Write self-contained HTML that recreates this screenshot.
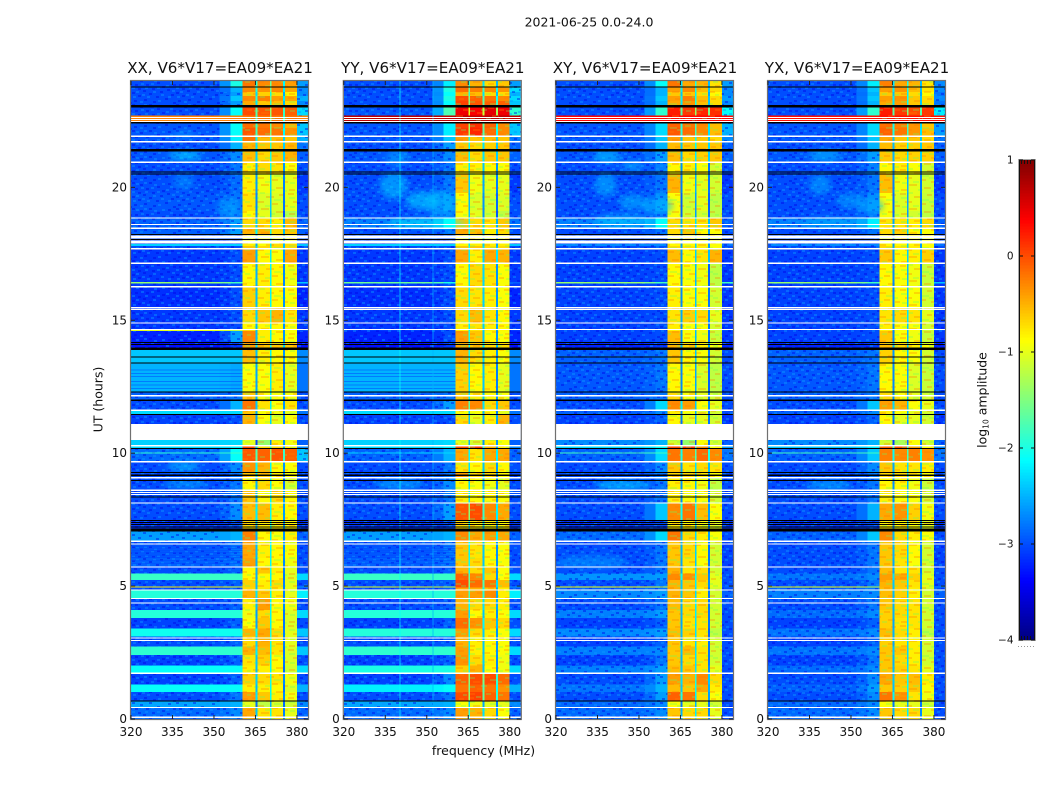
<!DOCTYPE html>
<html lang="en">
<head>
<meta charset="utf-8">
<title>2021-06-25 amplitude waterfall</title>
<style>
html,body{margin:0;padding:0;background:#fff;width:1050px;height:800px;overflow:hidden}
svg{display:block}
text{font-family:"DejaVu Sans","Liberation Sans",sans-serif;fill:#111}
.crisp{shape-rendering:crispEdges}
</style>
</head>
<body>
<svg id="chart" xmlns="http://www.w3.org/2000/svg" width="1050" height="800" viewBox="0 0 1050 800">
<defs>
<filter id="soft" x="-50%" y="-50%" width="200%" height="200%"><feGaussianBlur stdDeviation="3"/></filter>
<pattern id="speckle" patternUnits="userSpaceOnUse" width="44" height="26">
<g fill="#0000e6" fill-opacity=".42">
<rect x="0" y="0" width="3" height="2"/><rect x="8" y="2" width="3" height="2"/><rect x="17" y="0" width="3" height="2"/><rect x="25" y="4" width="3" height="2"/><rect x="3" y="6" width="3" height="2"/><rect x="14" y="6" width="3" height="2"/><rect x="30" y="8" width="3" height="2"/><rect x="6" y="10" width="3" height="2"/><rect x="20" y="10" width="3" height="2"/><rect x="11" y="12" width="3" height="2"/><rect x="28" y="13" width="3" height="2"/><rect x="0" y="14" width="3" height="2"/><rect x="17" y="15" width="3" height="2"/><rect x="6" y="17" width="3" height="2"/><rect x="24" y="18" width="3" height="2"/><rect x="36" y="1" width="3" height="2"/><rect x="41" y="6" width="3" height="2"/><rect x="35" y="11" width="3" height="2"/><rect x="39" y="16" width="3" height="2"/><rect x="33" y="20" width="3" height="2"/><rect x="12" y="21" width="3" height="2"/><rect x="2" y="22" width="3" height="2"/><rect x="21" y="23" width="3" height="2"/><rect x="41" y="24" width="3" height="2"/>
</g>
<g fill="#0a96ff" fill-opacity=".45">
<rect x="4" y="1" width="3" height="2"/><rect x="12" y="0" width="3" height="2"/><rect x="22" y="2" width="3" height="2"/><rect x="30" y="1" width="3" height="2"/><rect x="9" y="5" width="3" height="2"/><rect x="19" y="5" width="3" height="2"/><rect x="0" y="9" width="3" height="2"/><rect x="13" y="9" width="3" height="2"/><rect x="25" y="9" width="3" height="2"/><rect x="4" y="13" width="3" height="2"/><rect x="21" y="13" width="3" height="2"/><rect x="10" y="16" width="3" height="2"/><rect x="29" y="16" width="3" height="2"/><rect x="15" y="18" width="3" height="2"/><rect x="1" y="18" width="3" height="2"/><rect x="38" y="4" width="3" height="2"/><rect x="34" y="7" width="3" height="2"/><rect x="40" y="12" width="3" height="2"/><rect x="36" y="18" width="3" height="2"/><rect x="26" y="22" width="3" height="2"/><rect x="8" y="23" width="3" height="2"/>
</g>
</pattern>
<pattern id="band-mottle" patternUnits="userSpaceOnUse" width="36" height="24">
<g fill="#ff7a00" fill-opacity=".3">
<rect x="0" y="1" width="6" height="2"/><rect x="14" y="4" width="8" height="2"/><rect x="27" y="2" width="5" height="2"/><rect x="5" y="9" width="7" height="2"/><rect x="20" y="11" width="6" height="2"/><rect x="31" y="13" width="5" height="2"/><rect x="9" y="16" width="8" height="2"/><rect x="24" y="19" width="7" height="2"/><rect x="1" y="21" width="6" height="2"/>
</g>
<g fill="#60ff60" fill-opacity=".28">
<rect x="8" y="0" width="5" height="2"/><rect x="22" y="7" width="7" height="2"/><rect x="1" y="5" width="6" height="2"/><rect x="13" y="13" width="6" height="2"/><rect x="29" y="9" width="5" height="2"/><rect x="2" y="14" width="5" height="2"/><rect x="18" y="21" width="5" height="2"/><rect x="31" y="22" width="4" height="2"/>
</g>
</pattern>
</defs>
<rect x="0" y="0" width="1050" height="800" fill="#ffffff"/>
<text x="589" y="26.5" font-size="12.5" text-anchor="middle">2021-06-25 0.0-24.0</text>
<text x="483.5" y="755" font-size="12.5" text-anchor="middle">frequency (MHz)</text>
<text x="102.5" y="399.5" font-size="12.5" text-anchor="middle" transform="rotate(-90 102.5 399.5)">UT (hours)</text>
<text x="986.5" y="400" font-size="12.5" text-anchor="middle" transform="rotate(-90 986.5 400)">log<tspan font-size="7.5" dy="2">10</tspan><tspan dy="-2"> amplitude</tspan></text>
<g id="panels"></g>
<g id="colorbar"></g>
</svg>
<script>
// ---- figure data -------------------------------------------------------
const panelTitles = ['XX, V6*V17=EA09*EA21', 'YY, V6*V17=EA09*EA21', 'XY, V6*V17=EA09*EA21', 'YX, V6*V17=EA09*EA21'];
const freqTicks = [320, 335, 350, 365, 380];
const utTicks = [0, 5, 10, 15, 20];
const cbarTicks = [1, 0, -1, -2, -3, -4];

// channel boundaries in MHz: background, ramp, edge, band A, gap, band B, gap, band C, gap, band D, tail
const freqEdges = [320, 352, 356, 360.4, 365.1, 365.7, 370.2, 370.8, 375, 375.7, 380, 384];

// UT boundaries of the time rows (hours, descending)
const utEdges = [24, 23.77, 23.59, 23.44, 23.25, 23.04, 22.7, 22.44, 22.23, 21.93, 21.71, 21.41, 20.95, 20.5, 19.79, 19.11, 18.85, 18.47, 18.21, 17.87, 17.8, 17.68, 17.16, 16.44, 16.39, 16.25, 15.46, 14.9, 14.65, 14.6, 14.15, 13.89, 13.39, 12.3, 11.96, 11.61, 11.46, 11.1, 10.5, 10.27, 10.16, 10.03, 9.99, 9.67, 9.27, 9.07, 8.62, 8.11, 7.46, 7.05, 6.7, 6.06, 5.7, 5.48, 5.23, 4.99, 4.94, 4.84, 4.53, 4.1, 3.8, 3.4, 3.1, 2.72, 2.4, 2.01, 1.72, 1.29, 1.02, 0.67, 0.43, 0];

// log10 amplitude per time row: background, edge, band A, band B, band C, band D, tail
const rowsXX = [
[-3,-2,-.2,-.3,-.3,-.4,-2.6],[-3,-2.5,-.3,-.35,-.3,-.45,-2.7],[-3,-2.6,-.6,-.65,-.7,-.8,-2.7],[-3,-2.4,-.3,-.25,-.4,-.45,-2.5],
[-3,-2.6,-.45,-.6,-.55,-.7,-2.7],[-3,-2.1,0,-.05,-.05,-.1,-2.3],[-.25,-.25,-.2,-.2,-.2,-.2,-.25],[-2.95,-2.1,-.15,-.2,-.3,-.5,-2.4],
[-2.95,-2.1,-.05,-.15,-.2,-.35,-2.4],[-2.95,-2.2,-.2,-.55,-.55,-.6,-2.5],[-3,-2.5,-.5,-.6,-.6,-.5,-2.8],[-2.95,-2.7,-.55,-.7,-.6,-.5,-2.9],
[-3,-2.8,-.8,-.7,-.75,-.9,-3],[-3,-2.85,-.8,-.95,-1,-1,-3.1],[-2.95,-2.8,-.75,-1.05,-1.05,-1,-3],[-3,-2.8,-.85,-1,-1.1,-1.25,-3],
[-2.9,-2.6,-.7,-.7,-.8,-.55,-2.9],[-2.9,-2.6,-.5,-.5,-.7,-.6,-2.9],[-3,-3,-.9,-.9,-.9,-.9,-3],[-2.35,-2.35,-.8,-.9,-.7,-.7,-2.4],
[-3,-3,-.6,-.7,-.7,-.7,-3],[-3.1,-3,-.4,-.85,-.9,-.45,-3.1],[-3.1,-3,-.85,-.8,-.85,-.95,-3.1],[-1.4,-1.8,-.8,-.8,-.85,-.95,-2.4],
[-3.1,-3,-.85,-.8,-.85,-.95,-3.1],[-3.15,-3,-.65,-.8,-.85,-.9,-3.2],[-3.1,-3,-.7,-.6,-.5,-.75,-3.1],[-3.1,-3,-.85,-.85,-.85,-.9,-3.1],
[-1,-1.2,-.7,-.8,-.85,-.9,-3],[-3.2,-2.6,-.3,-.8,-.85,-.9,-3.2],[-3.3,-3.1,-.4,-.6,-.6,-.6,-3.3],[-2.4,-2.4,-.55,-.8,-.85,-.9,-2.7],
[-2.5,-2.55,-.9,-.9,-.8,-1,-2.8],[-2.9,-2.8,-.6,-.9,-.9,-.9,-3],[-3,-2.5,-.2,-.75,-.9,-.75,-3],[-2.3,-2.3,-.6,-.9,-.95,-1,-2.8],
[-3.05,-3,-.5,-.9,-1,-.9,-3],[-3,-3,-1,-1,-1,-1,-3],[-2.35,-2.3,-1,-1.4,-.8,-.95,-2.9],[-2.3,-2.2,0,-.7,-.7,-.8,-2.7],
[-2.85,-2.1,-.05,-.1,-.05,-.1,-2.4],[-1.9,-1.8,-.05,-.1,-.05,-.1,-2.4],[-2.85,-2.1,-.05,-.1,-.05,-.1,-2.4],[-3,-2.7,-.35,-.5,-.85,-.9,-3],
[-3,-2.8,-.6,-.6,-.8,-.9,-3],[-3,-2.8,-.85,-.7,-.9,-1.1,-3],[-3,-2.8,-.6,-.85,-.7,-.85,-3],[-3,-2.7,-.55,-.55,-.8,-.85,-3],
[-3.1,-3,-.7,-.8,-.8,-.85,-3.1],[-2.6,-2.5,-.25,-.85,-.9,-.8,-2.9],[-2.95,-2.8,-.45,-.8,-.85,-.9,-3],[-2.9,-2.8,-.4,-.85,-.85,-.95,-3],
[-3,-2.9,-.85,-.6,-.8,-1,-3],[-1.85,-1.85,-.85,-.85,-.85,-1.05,-2.3],[-3,-2.9,-.65,-.8,-.7,-1,-3],[-.8,-1,-.65,-.8,-.7,-1,-2.6],
[-3,-2.9,-.7,-.8,-.8,-1,-3],[-1.95,-1.95,-.5,-.6,-.8,-1,-2.2],[-3,-2.9,-.8,-.4,-.85,-.95,-3],[-1.95,-1.95,-.95,-.7,-.85,-1.05,-2.3],
[-3.05,-2.9,-.9,-.6,-.85,-1.05,-3],[-2.05,-2.05,-.5,-.45,-.7,-1,-2.4],[-3,-2.9,-.7,-.5,-.75,-1,-3],[-1.9,-1.9,-.5,-.55,-.75,-1.05,-2.4],
[-3.05,-2.9,-.75,-.65,-.85,-1.05,-3],[-2.1,-2.1,-.8,-.8,-.85,-1.1,-2.3],[-3.05,-2.9,-.65,-.7,-.75,-.95,-3],[-2.1,-2.1,-.8,-.8,-.85,-1.05,-2.5],
[-3,-2.8,-.4,-.6,-.8,-.95,-3],[-2.55,-2.5,-1,-1.2,-1.05,-1.1,-2.7],[-2.85,-2.7,-.45,-.75,-.75,-1,-2.9]];

const rowsYY = [
[-3,-2.2,-.3,-.5,-.7,-.6,-2.6],[-3,-2,-.15,-.25,-.3,-.35,-2.3],[-3,-2.1,-.5,-.55,-.7,-.7,-2.5],[-3,-2,0,-.1,-.2,-.3,-2.3],
[-3,-2.1,.05,-.05,-.1,-.1,-2.4],[-2.95,-1.75,.45,.4,.5,.45,-1.9],[.7,.7,.7,.7,.7,.7,.7],[-2.95,-2.2,.05,.15,-.1,-.3,-2.4],
[-2.95,-2.2,.1,.2,-.15,-.3,-2.4],[-2.95,-2.4,-.4,-.6,-.55,-.6,-2.8],[-3,-2.6,-.6,-.7,-.65,-.6,-2.9],[-2.95,-2.7,-.55,-.7,-.6,-.6,-2.9],
[-3,-2.8,-.8,-.8,-.85,-.9,-3],[-3,-2.8,-.6,-.95,-1,-1,-3.1],[-3,-2.7,-.85,-1.05,-1.1,-1.05,-3],[-3,-2.8,-.9,-1,-1.1,-1.2,-3],
[-2.75,-2.1,-.6,-.7,-.75,-.6,-2.8],[-3,-2.8,-.45,-.55,-.8,-.7,-3],[-3,-3,-.9,-.9,-.9,-.9,-3],[-2.35,-2.35,-.85,-.8,-.8,-.8,-2.4],
[-3,-3,-.6,-.6,-.7,-.7,-3],[-3.1,-3,-.45,-.8,-.45,-.5,-3.1],[-3.1,-3,-.85,-.7,-.75,-.9,-3.1],[-1.6,-2,-.85,-.7,-.75,-.9,-2.9],
[-3.1,-3,-.85,-.7,-.75,-.9,-3.1],[-3.15,-3,-.7,-.75,-.8,-.9,-3.2],[-3.1,-3,-.7,-.55,-.75,-.85,-3.1],[-3.1,-3,-.8,-.75,-.8,-.85,-3.1],
[-3.1,-3,-.8,-.75,-.8,-.85,-3.1],[-3.2,-3,-.4,-.6,-.85,-.9,-3.2],[-3.3,-3.1,-.45,-.6,-.7,-.7,-3.3],[-2.4,-2.4,-.5,-.7,-.8,-.9,-2.7],
[-2.5,-2.5,-.65,-.85,-.8,-1,-2.8],[-2.9,-2.8,-.6,-.8,-.85,-.9,-3],[-3,-2.6,-.25,-.3,-.7,-.6,-3],[-2.3,-2.3,-.9,-.9,-.9,-1,-2.8],
[-3.05,-3,-.7,-1,-.8,-.5,-3],[-3,-3,-1,-1,-1,-1,-3],[-2.35,-2.3,-1,-1.1,-.8,-.9,-2.9],[-2.3,-2.2,0,.1,-.5,-.8,-2.7],
[-2.9,-2.5,-.45,-.75,-.45,-.45,-2.9],[-2.3,-2.3,-.45,-.75,-.45,-.45,-2.9],[-2.9,-2.5,-.45,-.75,-.45,-.45,-2.9],[-3,-2.8,-.75,-.85,-.7,-.85,-3],
[-3,-2.8,-.4,-.7,-.7,-.85,-3],[-3,-2.7,-.85,-.9,-.95,-1,-3],[-3,-2.8,-.8,-.85,-.85,-.9,-3],[-3,-2.6,-.05,0,-.3,-.45,-3],
[-3.1,-3,-.7,-.8,-.8,-.85,-3.1],[-2.6,-2.5,-.3,-.45,-.4,-.45,-2.9],[-2.95,-2.8,-.6,-.75,-.85,-.9,-3],[-2.9,-2.8,-.6,-.7,-.85,-.9,-3],
[-3,-2.9,-.5,-.7,-.6,-.9,-3],[-1.85,-1.85,-.1,-.3,-.7,-.9,-2.3],[-3,-2.9,0,-.15,-.2,-.55,-3],[-1,-1.2,0,-.15,-.2,-.55,-2.6],
[-3,-2.9,-.45,-.5,-.6,-.8,-3],[-1.95,-1.95,-.4,-.4,-.3,-.8,-2.2],[-3,-2.9,-.5,-.7,-.7,-.8,-3],[-1.95,-1.95,-.4,-.85,-.8,-.9,-2.3],
[-3.05,-2.9,-.15,-.35,-.6,-.7,-3],[-1.95,-1.95,-.4,-.7,-.8,-.9,-2.3],[-3,-2.9,-.5,-.8,-.85,-.9,-3],[-1.9,-1.9,-.4,-.8,-.85,-.9,-2.3],
[-3.05,-2.9,-.35,-.7,-.8,-.95,-3],[-2,-2,-.65,-.5,-.85,-.95,-2.3],[-3.05,-2.7,-.1,0,0,-.15,-3],[-2.2,-2.1,-.2,-.1,-.2,-.35,-2.5],
[-3,-2.8,0,.05,-.1,-.2,-3],[-2.55,-2.5,-.9,-.95,-1,-1,-2.7],[-2.85,-2.7,-.4,-.5,-.7,-.9,-2.9]];

const rowsXY = [
[-3,-2.1,-.2,-.45,-.5,-.75,-2.6],[-3,-2.5,-.4,-.3,-.55,-.7,-2.7],[-3,-2.5,-.6,-.6,-.7,-.85,-2.7],[-3,-2.4,-.4,-.25,-.55,-.7,-2.6],
[-3,-2.5,-.45,-.35,-.55,-.7,-2.7],[-3,-1.9,.25,.1,.2,.15,-2.1],[.35,.35,.35,.35,.35,.35,.35],[-2.95,-2.3,-.1,-.2,-.3,-.55,-2.5],
[-2.95,-2.3,-.05,-.15,-.3,-.55,-2.5],[-2.95,-2.4,-.4,-.6,-.6,-.7,-2.7],[-3,-2.5,-.55,-.6,-.6,-.6,-2.9],[-2.95,-2.6,-.55,-.7,-.65,-.6,-2.9],
[-3,-2.75,-.85,-.8,-.9,-1.1,-3],[-3,-2.8,-.5,-.95,-1,-1.1,-3.1],[-3,-2.7,-.9,-1.1,-1,-1.2,-3],[-3,-2.8,-.9,-1.1,-1.1,-1.2,-3],
[-2.75,-2.1,-.7,-.75,-.75,-.6,-2.9],[-3,-2.8,-.7,-.6,-.85,-.9,-3],[-3,-3,-.9,-.9,-.9,-.9,-3],[-2.7,-2.7,-.85,-.85,-.85,-.9,-2.8],
[-3,-3,-.7,-.75,-.8,-.9,-3],[-3.05,-3,-.55,-.85,-.75,-.5,-3.1],[-3.05,-3,-.85,-.9,-.95,-1.2,-3.1],[-1.4,-1.8,-.85,-.9,-.95,-1.2,-1.8],
[-3.05,-3,-.85,-.9,-.95,-1.2,-3.1],[-3.05,-3,-.8,-.9,-.9,-1.1,-3.1],[-3.05,-3,-.75,-.65,-.7,-1,-3.1],[-3.05,-3,-.8,-.9,-.9,-1.1,-3.1],
[-3.05,-3,-.8,-.9,-.9,-1.1,-3],[-3.05,-3,-.55,-.9,-.95,-1.15,-3.1],[-3.2,-3.1,-.5,-.7,-.8,-.9,-3.2],[-2.9,-2.8,-.6,-.85,-.9,-1.1,-3],
[-2.95,-2.8,-.85,-.9,-1.05,-1.2,-3],[-2.9,-2.8,-.7,-.9,-1,-1.1,-3],[-3,-2.3,-.3,-.4,-.9,-1,-3],[-2.9,-2.7,-.8,-.9,-1,-1.1,-3],
[-3.05,-2.9,-.85,-1,-1,-1.1,-3.1],[-3,-3,-1,-1,-1,-1,-3],[-2.7,-2.5,-1.1,-1.4,-.9,-1.1,-2.9],[-2.3,-2.1,0,.1,-.3,-.9,-2.6],
[-2.9,-2.3,-.2,-.25,-.15,-.3,-2.8],[-1.8,-1.8,-.2,-.25,-.15,-.3,-2.8],[-2.9,-2.3,-.2,-.25,-.15,-.3,-2.8],[-3,-2.7,-.6,-.75,-.7,-.75,-3],
[-3,-2.8,-.7,-.7,-.8,-.9,-3],[-3,-2.8,-.8,-.85,-.95,-1.2,-3],[-3,-2.8,-.8,-.9,-.9,-1.1,-3],[-3,-2.4,-.3,-.2,-.55,-.9,-3],
[-3.1,-3,-.8,-.85,-.9,-1,-3.1],[-2.85,-2.3,-.2,-.7,-.8,-.9,-3],[-3,-2.8,-.6,-.7,-.85,-1.1,-3.05],[-3,-2.8,-.6,-.75,-.9,-1.1,-3.05],
[-3,-2.8,-.5,-.75,-.7,-1.1,-3],[-2.65,-2.6,-.3,-.35,-.6,-1,-3],[-3,-2.8,-.5,-.6,-.7,-1,-3],[-.9,-1.1,-.5,-.6,-.7,-1,-2.9],
[-2.9,-2.8,-.5,-.6,-.8,-1.1,-3],[-2.7,-2.6,-.5,-.6,-.8,-1.1,-2.9],[-3,-2.8,-.55,-.7,-.7,-1.1,-3],[-2.75,-2.6,-.6,-.7,-.7,-1.1,-3],
[-3.05,-2.9,-.6,-.75,-.75,-1.1,-3],[-2.7,-2.6,-.55,-.65,-.75,-1.2,-3],[-3.05,-2.9,-.6,-.75,-.8,-1.1,-3],[-2.75,-2.7,-.6,-.55,-.75,-1.1,-3],
[-3.05,-2.8,-.6,-.7,-.75,-1.1,-3],[-2.75,-2.6,-.55,-.6,-.75,-1,-3],[-3,-2.6,-.4,-.5,-.3,-.7,-3],[-2.8,-2.5,-.55,-.6,-.45,-.8,-3],
[-3,-2.6,-.1,-.2,-.7,-.9,-3],[-2.85,-2.7,-.9,-1,-1,-1.1,-3],[-2.85,-2.7,-.6,-.7,-.7,-1,-3]];

const rowsYX = [
[-3,-2.2,-.25,-.45,-.5,-.75,-2.7],[-3,-2.4,-.4,-.35,-.55,-.75,-2.7],[-3,-2.5,-.6,-.6,-.7,-.85,-2.8],[-3,-2.4,-.4,-.35,-.6,-.7,-2.7],
[-3,-2.5,-.45,-.4,-.6,-.7,-2.8],[-3,-1.9,.25,.1,0,.1,-2.2],[.3,.3,.3,.3,.3,.3,.3],[-2.95,-2.3,-.15,-.25,-.35,-.6,-2.6],
[-2.95,-2.3,-.1,-.2,-.35,-.55,-2.6],[-2.95,-2.4,-.45,-.6,-.6,-.7,-2.8],[-3,-2.5,-.55,-.65,-.65,-.6,-2.9],[-2.95,-2.6,-.6,-.7,-.65,-.65,-2.9],
[-3,-2.75,-.85,-.8,-.9,-1.1,-3],[-3,-2.8,-.55,-.95,-1,-1.1,-3.1],[-3,-2.7,-.9,-1.05,-1,-1.15,-3],[-3,-2.8,-.9,-1.05,-1.1,-1.2,-3],
[-2.75,-2.2,-.75,-.75,-.8,-.7,-2.9],[-3,-2.8,-.7,-.65,-.85,-.9,-3],[-3,-3,-.9,-.9,-.9,-.9,-3],[-2.7,-2.7,-.85,-.85,-.85,-.9,-2.8],
[-3,-3,-.7,-.75,-.8,-.9,-3],[-3.05,-3,-.6,-.85,-.8,-.65,-3.1],[-3.05,-3,-.85,-.9,-.95,-1.15,-3.1],[-1.4,-1.8,-.85,-.9,-.95,-1.15,-2.4],
[-3.05,-3,-.85,-.9,-.95,-1.15,-3.1],[-3.05,-3,-.8,-.9,-.9,-1.1,-3.1],[-3.05,-3,-.75,-.7,-.75,-1,-3.1],[-3.05,-3,-.8,-.9,-.9,-1.1,-3.1],
[-3.05,-3,-.8,-.9,-.9,-1.1,-3],[-3.05,-3,-.6,-.9,-.95,-1.15,-3.1],[-3.2,-3.1,-.55,-.7,-.8,-.9,-3.2],[-2.9,-2.8,-.65,-.85,-.9,-1.1,-3],
[-2.95,-2.8,-.85,-.9,-1.05,-1.15,-3],[-2.9,-2.8,-.7,-.9,-1,-1.1,-3],[-3,-2.4,-.4,-.5,-.9,-1,-3],[-2.9,-2.7,-.8,-.9,-1,-1.1,-3],
[-3.05,-2.9,-.85,-1,-1,-1.1,-3.1],[-3,-3,-1,-1,-1,-1,-3],[-2.7,-2.5,-1.1,-1.3,-.9,-1.1,-2.9],[-2.4,-2.2,-.1,0,-.4,-.9,-2.7],
[-2.9,-2.4,-.25,-.3,-.25,-.35,-2.8],[-1.8,-1.8,-.25,-.3,-.25,-.35,-2.8],[-2.9,-2.4,-.25,-.3,-.25,-.35,-2.8],[-3,-2.7,-.6,-.75,-.75,-.8,-3],
[-3,-2.8,-.7,-.7,-.8,-.9,-3],[-3,-2.8,-.85,-.85,-.95,-1.15,-3],[-3,-2.8,-.8,-.9,-.9,-1.1,-3],[-3,-2.5,-.45,-.35,-.65,-.95,-3],
[-3.1,-3,-.8,-.85,-.9,-1,-3.1],[-2.9,-2.4,-.3,-.7,-.8,-.9,-3],[-3,-2.8,-.6,-.7,-.85,-1.1,-3.05],[-3,-2.8,-.6,-.75,-.9,-1.1,-3.05],
[-3,-2.8,-.55,-.75,-.75,-1.1,-3],[-2.8,-2.7,-.4,-.45,-.65,-1,-3],[-3,-2.8,-.5,-.6,-.75,-1,-3],[-.95,-1.2,-.5,-.6,-.75,-1,-2.7],
[-2.9,-2.8,-.55,-.65,-.8,-1.1,-3],[-2.75,-2.7,-.55,-.65,-.8,-1.1,-2.9],[-3,-2.8,-.6,-.7,-.75,-1.1,-3],[-2.85,-2.7,-.65,-.7,-.75,-1.1,-3],
[-3.05,-2.9,-.65,-.75,-.75,-1.1,-3],[-2.8,-2.7,-.55,-.7,-.8,-1.2,-3],[-3.05,-2.9,-.65,-.75,-.8,-1.1,-3],[-2.8,-2.7,-.6,-.6,-.8,-1.1,-3],
[-3.05,-2.8,-.6,-.7,-.8,-1.1,-3],[-2.85,-2.7,-.6,-.65,-.75,-1,-3],[-3,-2.7,-.45,-.6,-.55,-.8,-3],[-2.9,-2.6,-.6,-.65,-.6,-.9,-3],
[-3,-2.7,-.2,-.35,-.75,-.95,-3],[-2.85,-2.7,-.9,-1,-1,-1.1,-3],[-2.85,-2.7,-.6,-.7,-.7,-1,-3]];

// how far each inter-band gap sits below its neighbouring bands (dex), per panel
const gapDepthXX = [1.65, 1.3, 1.75];
const gapDepthYY = [1.4, 1.55, 1.75];
const gapDepthXY = [1.8, 1.5, 1.7];
const gapDepthYX = [1.8, 1.5, 1.7];

// narrow steady interference in YY: frequency (MHz), level
const steadyChannelsYY = [[340.2, -2.1], [352.1, -2.5]];

// thin dark time streaks seen across the background in XX and YY (UT hours)
const streaksUT = [13.14, 13.02, 12.9, 12.72, 12.58, 12.45, 6.5, 6.43, 6.36, 6.28, 6.17, 6.09, 5.98, 5.87];
const streakLevel = [-3.0];

// diffuse emission patches: centre MHz, centre UT, half-width MHz, half-height h, level
const patchesXX = [[339.5,21.2,6,.2,-2.2],[339,21.97,4,.12,-2.5],[339,20.2,4,.3,-2.6],[355,19.2,4,.4,-2.5],[340,8.84,8,.15,-2.4],[339,9.5,6,.2,-2.3]];
const patchesYY = [[338,20.05,5,.5,-2.3],[348.4,19.5,6,.35,-2.2],[355,19.4,5,.5,-2.4],[339.4,21.1,4,.3,-2.5],[350,18.65,14,.2,-2.1],[340,8.84,9,.2,-2.4]];
const patchesXY = [[338.5,21.15,5,.25,-2.3],[347.6,20.8,4,.2,-2.4],[338,20.1,4,.45,-2.4],[347.6,19.45,5,.3,-2.4],[356.6,19.3,6,.3,-2.4],[344,18.75,10,.25,-2.3],[344,8.8,10,.2,-2.2],[333,5.9,13,.25,-2.55]];
const patchesYX = [[340.6,21.2,6,.25,-2.4],[338.8,20.1,4,.4,-2.5],[349.6,19.5,5,.3,-2.5],[357,19.3,5,.3,-2.5],[344,18.7,12,.2,-2.5],[342,8.8,8,.2,-2.4]];

// flagged (no data) intervals: from UT, to UT
const flaggedUT = [[22.6,22.65],[22.53,22.57],[22.45,22.5],[21.9,21.95],[21.69,21.74],[20.92,20.97],[18.82,18.87],[18.58,18.63],[18.44,18.49],[18.07,18.18],[17.88,18],[17.66,17.71],[17.12,17.17],[16.24,16.29],[15.45,15.5],[15.39,15.43],[14.87,14.92],[14.63,14.67],[12.13,12.18],[11.59,11.64],[10.5,11.1],[10.26,10.31],[9.65,9.7],[9.05,9.1],[8.58,8.63],[8.5,8.54],[8.43,8.47],[8.1,8.15],[6.65,6.71],[6.56,6.6],[5.69,5.74],[4.83,4.88],[4.51,4.56],[4.34,4.39],[3.02,3.07],[2.94,2.98],[1.7,1.75],[.41,.46],[.03,.09]];

// sharp dropouts drawn black: from UT, to UT
const dropoutUT = [[23.75,23.79],[23.01,23.09],[22.41,22.45],[21.34,21.44],[20.55,20.59],[20.48,20.52],[18.2,18.24],[18.01,18.05],[14.14,14.18],[14.06,14.1],[13.88,13.98],[13.59,13.63],[13.38,13.42],[12.28,12.32],[11.97,12.01],[11.44,11.48],[10.16,10.2],[9.25,9.29],[9.15,9.19],[8.96,9],[8.33,8.37],[7.44,7.48],[7.37,7.41],[7.29,7.33],[7.21,7.25],[7.05,7.16],[.65,.69]];

// ---- axis functions ----------------------------------------------------
const FREQ_MIN = 320, FREQ_MAX = 384, UT_MIN = 0, UT_MAX = 24, LOG_MIN = -4, LOG_MAX = 1;
const AX_TOP = 81, AX_BOTTOM = 719, AX_WIDTH = 177;
const CB_LEFT = 1019, CB_RIGHT = 1035, CB_TOP = 160, CB_BOTTOM = 640;
const SVGNS = 'http://www.w3.org/2000/svg';

function axisLeft(p) { return p === 0 ? 131 : p === 1 ? 343.8 : p === 2 ? 556 : 768; }
function xScale(freq, p) { return axisLeft(p) + (freq - FREQ_MIN) / (FREQ_MAX - FREQ_MIN) * AX_WIDTH; }
function yScale(ut) { return AX_BOTTOM - (ut - UT_MIN) / (UT_MAX - UT_MIN) * (AX_BOTTOM - AX_TOP); }
function cbScale(v) { return CB_BOTTOM - (v - LOG_MIN) / (LOG_MAX - LOG_MIN) * (CB_BOTTOM - CB_TOP); }
function clamp01(v) { return Math.max(0, Math.min(1, v)); }
function jet(level) {
  const t = clamp01((level - LOG_MIN) / (LOG_MAX - LOG_MIN));
  const r = clamp01(1.5 - Math.abs(4 * t - 3));
  const g = clamp01(1.5 - Math.abs(4 * t - 2));
  const b = clamp01(1.5 - Math.abs(4 * t - 1));
  return 'rgb(' + Math.round(r * 255) + ',' + Math.round(g * 255) + ',' + Math.round(b * 255) + ')';
}
function make(tag, parent, attrs) {
  const el = document.createElementNS(SVGNS, tag);
  for (const k in attrs) el.setAttribute(k, attrs[k]);
  parent.appendChild(el);
  return el;
}
// maps a time row plus column index to the level of that heatmap cell
function cellLevel(row, col, depth) {
  const bg = row[0], edge = row[1], a = row[2], b = row[3], c = row[4], d = row[5], tail = row[6];
  const spike = bg > -1.7;
  switch (col) {
    case 0: return bg;
    case 1: return bg * .65 + edge * .35;
    case 2: return edge;
    case 3: return a;
    case 4: return spike && bg === a ? a : Math.max(-3.2, Math.min(a, b) - depth[0]);
    case 5: return b;
    case 6: return spike && bg === b ? b : Math.max(-3.2, Math.min(b, c) - depth[1]);
    case 7: return c;
    case 8: return spike && bg === c ? c : Math.max(-3.2, Math.min(c, d) - depth[2]);
    case 9: return d;
    default: return tail;
  }
}

// ---- draw panels -------------------------------------------------------
const panelRows = [rowsXX, rowsYY, rowsXY, rowsYX];
const panelGaps = [gapDepthXX, gapDepthYY, gapDepthXY, gapDepthYX];
const panelPatches = [patchesXX, patchesYY, patchesXY, patchesYX];
const panelKeys = ['xx', 'yy', 'xy', 'yx'];
const bandColumns = [3, 5, 7, 9];
const panelsRoot = document.getElementById('panels');

panelTitles.forEach(function (title, p) {
  const g = make('g', panelsRoot, {});
  
  

  const clipId = 'clip-' + panelKeys[p];
  const clip = make('clipPath', g, { id: clipId });
  make('rect', clip, { x: axisLeft(p), y: AX_TOP, width: AX_WIDTH, height: AX_BOTTOM - AX_TOP });

  const plot = make('g', g, { 'clip-path': 'url(#' + clipId + ')' });
  
  

  const cellLayer = make('g', plot, { class: 'crisp' });
  panelRows[p].forEach(function (row, r) {
    const y0 = yScale(utEdges[r]), y1 = yScale(utEdges[r + 1]);
    for (let c = 0; c < freqEdges.length - 1; c++) {
      const x0 = xScale(freqEdges[c], p), x1 = xScale(freqEdges[c + 1], p);
      const cell = make('rect', cellLayer, {
        x: x0.toFixed(2), y: y0.toFixed(2),
        width: (x1 - x0 + .3).toFixed(2), height: (y1 - y0 + .3).toFixed(2),
        fill: jet(cellLevel(row, c, panelGaps[p]))
      });
      
      
    }
  });

  bandColumns.forEach(function (c) {
    const x0 = xScale(freqEdges[c], p), x1 = xScale(freqEdges[c + 1], p);
    const mottle = make('rect', cellLayer, { x: x0, y: AX_TOP, width: x1 - x0, height: AX_BOTTOM - AX_TOP, fill: 'url(#band-mottle)' });
    
    
  });

  const speckleLayer = make('g', plot, { class: 'crisp' });
  panelRows[p].forEach(function (row, r) {
    if (row[0] > -2.55) return;
    const y0 = yScale(utEdges[r]), y1 = yScale(utEdges[r + 1]);
    const leftEnd = row[1] <= -2.55 ? freqEdges[3] : freqEdges[1];
    const left = make('rect', speckleLayer, {
      x: xScale(freqEdges[0], p), y: y0, width: xScale(leftEnd, p) - xScale(freqEdges[0], p), height: y1 - y0, fill: 'url(#speckle)'
    });
    
    
    const right = make('rect', speckleLayer, {
      x: xScale(freqEdges[10], p), y: y0, width: xScale(freqEdges[11], p) - xScale(freqEdges[10], p), height: y1 - y0, fill: 'url(#speckle)'
    });
    
    
  });

  if (p < 2) {
    streaksUT.forEach(function (ut) {
      const y = yScale(ut);
      const streak = make('rect', speckleLayer, { x: xScale(freqEdges[0], p), y: y, width: xScale(freqEdges[3], p) - xScale(freqEdges[0], p), height: 1, fill: jet(streakLevel[0]), 'fill-opacity': .55 });
      
      
    });
  }

  panelPatches[p].forEach(function (patch) {
    const cx = xScale(patch[0], p), cy = yScale(patch[1]);
    const rx = xScale(patch[0] + patch[2], p) - cx;
    const ry = cy - yScale(patch[1] + patch[3]);
    const blob = make('ellipse', plot, { cx: cx, cy: cy, rx: rx, ry: ry, fill: jet(patch[4]), 'fill-opacity': .5, filter: 'url(#soft)' });
    
    
  });

  if (p === 1) {
    steadyChannelsYY.forEach(function (ch) {
      const line = make('rect', plot, { class: 'crisp', x: xScale(ch[0], p), y: AX_TOP, width: 1, height: AX_BOTTOM - AX_TOP, fill: jet(ch[1]), 'fill-opacity': .7 });
      
      
    });
  }

  flaggedUT.forEach(function (gap) {
    const y = yScale(gap[1]);
    const mask = make('rect', plot, { class: 'crisp', x: axisLeft(p), y: y, width: AX_WIDTH, height: yScale(gap[0]) - y, fill: '#ffffff' });
    
    
  });
  dropoutUT.forEach(function (gap) {
    const y = yScale(gap[1]);
    const mask = make('rect', plot, { class: 'crisp', x: axisLeft(p), y: y, width: AX_WIDTH, height: yScale(gap[0]) - y, fill: '#000000' });
    
    
  });

  const frame = make('rect', g, { x: axisLeft(p) - .5, y: AX_TOP - .5, width: AX_WIDTH + 1, height: AX_BOTTOM - AX_TOP + 1, fill: 'none', stroke: '#707070', 'stroke-width': 1.2 });
  
  

  freqTicks.forEach(function (f) {
    const x = xScale(f, p);
    const bottom = make('line', g, { x1: x, x2: x, y1: AX_BOTTOM, y2: AX_BOTTOM - 4, stroke: '#222', 'stroke-width': 1 });
    
    
    const top = make('line', g, { x1: x, x2: x, y1: AX_TOP, y2: AX_TOP + 4, stroke: '#222', 'stroke-width': 1 });
    
    
    const label = make('text', g, { x: x, y: 736, 'font-size': 12, 'text-anchor': 'middle' });
    label.textContent = String(f);
    
    
  });
  utTicks.forEach(function (u) {
    const y = yScale(u);
    const left = make('line', g, { x1: axisLeft(p), x2: axisLeft(p) + 4, y1: y, y2: y, stroke: '#222', 'stroke-width': 1 });
    
    
    const right = make('line', g, { x1: axisLeft(p) + AX_WIDTH, x2: axisLeft(p) + AX_WIDTH - 4, y1: y, y2: y, stroke: '#222', 'stroke-width': 1 });
    
    
    const label = make('text', g, { x: axisLeft(p) - 4, y: y + 4, 'font-size': 12, 'text-anchor': 'end' });
    label.textContent = String(u);
    
    
  });

  const titleEl = make('text', g, { x: axisLeft(p) + AX_WIDTH / 2 + .5, y: 73, 'font-size': 15.1, 'text-anchor': 'middle' });
  titleEl.textContent = title;
  
  
});

// ---- colorbar ----------------------------------------------------------
const cbRoot = document.getElementById('colorbar');
const cbSteps = 160;
const cbRamp = make('g', cbRoot, { class: 'crisp' });
for (let i = 0; i < cbSteps; i++) {
  const v0 = LOG_MIN + (LOG_MAX - LOG_MIN) * i / cbSteps;
  const v1 = LOG_MIN + (LOG_MAX - LOG_MIN) * (i + 1) / cbSteps;
  const swatch = make('rect', cbRamp, { x: CB_LEFT, y: cbScale(v1), width: CB_RIGHT - CB_LEFT, height: cbScale(v0) - cbScale(v1) + .4, fill: jet((v0 + v1) / 2) });
  
  
}
const cbOuter = make('rect', cbRoot, { x: CB_LEFT - .5, y: CB_TOP - .5, width: CB_RIGHT - CB_LEFT + 1, height: CB_BOTTOM - CB_TOP + 1, fill: 'none', stroke: '#aaaaaa', 'stroke-width': 1 });


const cbInnerL = make('line', cbRoot, { x1: CB_LEFT + .5, x2: CB_LEFT + .5, y1: CB_TOP, y2: CB_BOTTOM, stroke: '#111', 'stroke-width': 1 });


const cbInnerR = make('line', cbRoot, { x1: CB_RIGHT - .5, x2: CB_RIGHT - .5, y1: CB_TOP, y2: CB_BOTTOM, stroke: '#111', 'stroke-width': 1 });


cbarTicks.forEach(function (v) {
  const y = cbScale(v);
  const tl = make('line', cbRoot, { x1: CB_LEFT, x2: CB_LEFT + 4, y1: y, y2: y, stroke: '#111', 'stroke-width': 1 });
  
  
  const tr = make('line', cbRoot, { x1: CB_RIGHT - 4, x2: CB_RIGHT, y1: y, y2: y, stroke: '#111', 'stroke-width': 1 });
  
  
  const label = make('text', cbRoot, { x: 1013.5, y: y + 3.5, 'font-size': 10.5, 'text-anchor': 'end' });
  label.textContent = v < 0 ? '\u2212' + Math.abs(v) : String(v);
  
  
});
const topComb = make('line', cbRoot, { x1: CB_LEFT + 2, x2: CB_RIGHT - 2, y1: CB_TOP + 2, y2: CB_TOP + 2, stroke: '#111', 'stroke-width': 4, 'stroke-dasharray': '1 2' });


const bottomComb = make('line', cbRoot, { x1: CB_LEFT + 2, x2: CB_RIGHT - 2, y1: CB_BOTTOM - 2, y2: CB_BOTTOM - 2, stroke: '#111', 'stroke-width': 4, 'stroke-dasharray': '1 2' });


const cbDots = make('line', cbRoot, { x1: CB_LEFT - 1, x2: CB_RIGHT, y1: 646.5, y2: 646.5, stroke: '#999', 'stroke-width': 1, 'stroke-dasharray': '1 2' });


</script>
</body>
</html>
